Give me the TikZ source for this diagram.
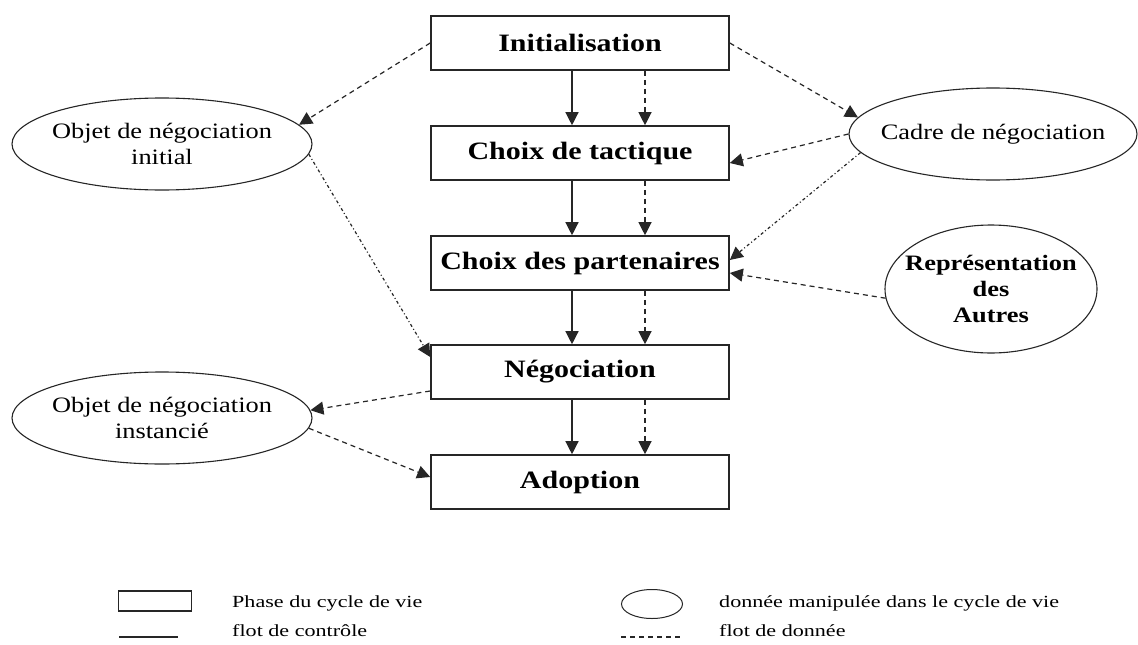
\documentclass[tikz,border=0pt]{standalone}
\usepackage{fontspec}
\setmainfont{Liberation Serif}
\newfontfamily\wfont[FakeStretch=1.2]{Liberation Serif}
\newfontfamily\lfont[FakeStretch=1.3]{Liberation Serif}
\usetikzlibrary{shapes.geometric,arrows.meta}
\begin{document}
\begin{tikzpicture}[x=1pt,y=-1pt,
  phase/.style={draw=black!85,line width=1.6pt,minimum width=298pt,minimum height=54pt,inner sep=0pt,
     font=\wfont\bfseries\fontsize{25}{30}\selectfont},
  dataell/.style={draw=black!85,line width=1.1pt,ellipse,inner sep=0pt},
  elltext/.style={align=center,inner sep=0pt,font=\wfont\fontsize{22}{26}\selectfont},
  tip/.style={-{Triangle[length=13pt,width=13pt]}},
  ctrl/.style={tip,line width=1.3pt,draw=black!85},
  flow/.style={tip,line width=1.2pt,draw=black!85,dash pattern=on 5pt off 4pt},
  flowdot/.style={tip,line width=1.2pt,draw=black!85,dash pattern=on 3pt off 2.5pt on 1pt off 2.5pt},
  legtext/.style={anchor=base west,inner sep=0pt,font=\lfont\fontsize{17}{20}\selectfont}]
\useasboundingbox (0,0) rectangle (1138,645);
\fill[white] (0,0) rectangle (1138,645);
% phases
\node[phase] (b1) at (580,43) {Initialisation};
\node[phase] (b2) at (580,153) {Choix de tactique};
\node[phase] (b3) at (580,263) {Choix des partenaires};
\node[phase] (b4) at (580,372) {Négociation};
\node[phase] (b5) at (580,482) {Adoption};
% data
\node[dataell,minimum width=300pt,minimum height=92pt] (oi) at (162,144) {};
\node[elltext] (oit) at (oi) {Objet de négociation\\initial};
\node[dataell,minimum width=288pt,minimum height=92pt] (ca) at (993,134) {};
\node[elltext] (cat) at (ca) {Cadre de négociation};
\node[dataell,minimum width=212pt,minimum height=128pt] (re) at (991,289) {};
\node[elltext,font=\wfont\bfseries\fontsize{22}{26}\selectfont] (ret) at (re) {Représentation\\des\\Autres};
\node[dataell,minimum width=300pt,minimum height=92pt] (on) at (162,418) {};
\node[elltext] (ont) at (on) {Objet de négociation\\instancié};
% control / data flow between phases
\foreach \a/\b in {b1/b2,b2/b3,b3/b4,b4/b5}{
  \draw[ctrl] ([xshift=-8pt]\a.south) -- ([xshift=-8pt]\b.north);
  \draw[flow] ([xshift=65pt]\a.south) -- ([xshift=65pt]\b.north);
}
% data flows
\draw[flow] (b1.west) -- (oi.8);
\draw[flow] (b1.east) -- (ca.173);
\draw[flow] (ca.180) -- ([yshift=-10pt]b2.east);
\draw[flowdot] (ca.188) -- ([yshift=3pt]b3.east);
\draw[flow] (re.185) -- ([yshift=-10pt]b3.east);
\draw[flowdot] (oi.-4) -- ([yshift=15pt]b4.west);
\draw[flow] ([yshift=-19pt]b4.west) -- (on.3);
\draw[flow] (on.-4) -- ([yshift=5pt]b5.west);
% legend
\node[draw=black!85,line width=1.3pt,minimum width=73pt,minimum height=20pt,inner sep=0pt] (lr) at (155,601) {};
\node[legtext] (lrt) at (232,607) {Phase du cycle de vie};
\coordinate (ls1) at (119,637);
\coordinate (ls2) at (178,637);
\draw[line width=1.3pt,draw=black!85] (ls1) -- (ls2);
\node[legtext] (lst) at (232,636) {flot de contrôle};
\node[dataell,line width=1pt,minimum width=61pt,minimum height=29pt] (le) at (652,604) {};
\node[legtext] (let) at (719,607) {donnée manipulée dans le cycle de vie};
\coordinate (ld1) at (621,637);
\coordinate (ld2) at (680,637);
\draw[line width=1.2pt,draw=black!85,dash pattern=on 5pt off 4pt] (ld1) -- (ld2);
\node[legtext] (ldt) at (719,636) {flot de donnée};
\end{tikzpicture}
\end{document}
